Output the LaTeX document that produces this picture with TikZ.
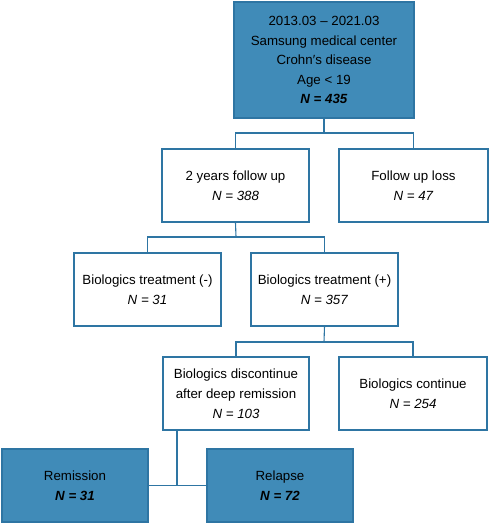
\documentclass[tikz,border=0pt]{standalone}
\usepackage{fontspec}
\setmainfont{Liberation Sans}
\definecolor{boxblue}{RGB}{64,139,184}
\definecolor{lineblue}{RGB}{46,117,163}
\tikzset{
  box/.style={draw=lineblue, line width=1.1pt, fill=white, align=center,
    minimum width=147pt, minimum height=73pt, inner sep=0pt,
    font=\fontsize{13.3}{20}\selectfont},
  darkbox/.style={box, fill=boxblue},
  link/.style={draw=lineblue, line width=1.1pt}
}
\begin{document}
\begin{tikzpicture}[x=1pt,y=-1pt]
\useasboundingbox (0,0) rectangle (489,525);
\node[darkbox, minimum width=180pt, minimum height=116pt,
  font=\fontsize{13.3}{19.5}\selectfont] (cohort) at (324,60)
  {2013.03 – 2021.03\\Samsung medical center\\Crohn′s disease\\Age < 19\\\textbf{\textit{N = 435}}};
\node[box] (followup) at (235.5,185.5) {2 years follow up\\\textit{N = 388}};
\node[box, minimum width=149pt] (loss) at (413.5,185.5) {Follow up loss\\\textit{N = 47}};
\node[box] (bioneg) at (147.5,289.5) {Biologics treatment (-)\\\textit{N = 31}};
\node[box] (biopos) at (324.5,289.5) {Biologics treatment (+)\\\textit{N = 357}};
\node[box, minimum width=146pt] (stop) at (236,393.5) {Biologics discontinue\\after deep remission\\\textit{N = 103}};
\node[box, minimum width=148pt] (keep) at (413,393.5) {Biologics continue\\\textit{N = 254}};
\node[darkbox, minimum width=146pt] (remission) at (75,485.5) {Remission\\\textbf{\textit{N = 31}}};
\node[darkbox, minimum width=146pt] (relapse) at (280,485.5) {Relapse\\\textbf{\textit{N = 72}}};
% points de branchement
\coordinate (s1) at (324,133);
\coordinate (s2) at (236,237);
\coordinate (s3) at (324,342);
\coordinate (s4) at (177,485.5);
\draw[link] (cohort.south) -- (s1);
\draw[link] (s1) -| (followup.north);
\draw[link] (s1) -| (loss.north);
\draw[link] (followup.south) -- (s2);
\draw[link] (s2) -| (bioneg.north);
\draw[link] (s2) -| (biopos.north);
\draw[link] (biopos.south) -- (s3);
\draw[link] (s3) -| (stop.north);
\draw[link] (s3) -| (keep.north);
\draw[link] (stop.south -| s4) -- (s4);
\draw[link] (remission.east) -- (relapse.west);
\end{tikzpicture}
\end{document}
